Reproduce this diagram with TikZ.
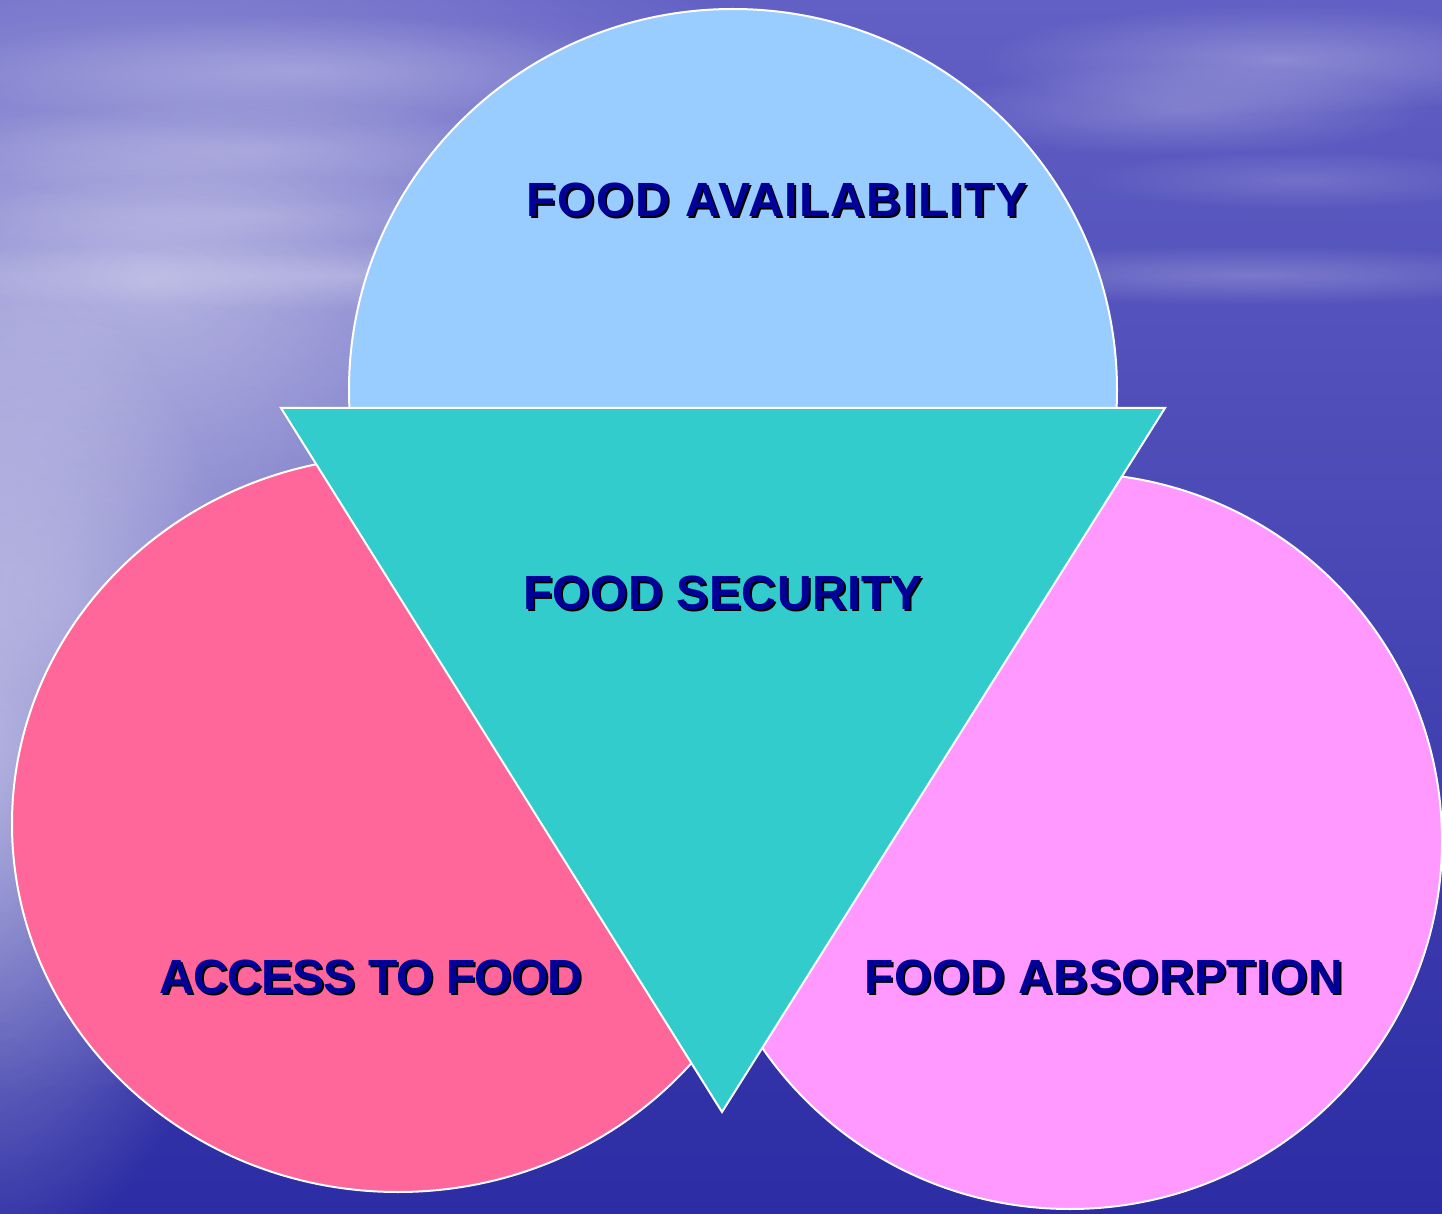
\documentclass[tikz,border=0pt]{standalone}
\usepackage{fontspec}
\setmainfont{Liberation Sans}
\usetikzlibrary{fadings}

\definecolor{skytop}{HTML}{6260C4}
\definecolor{skymid}{HTML}{5250BA}
\definecolor{seabottom}{HTML}{2C2CA4}
\definecolor{availfill}{HTML}{99CCFF}
\definecolor{accessfill}{HTML}{FF6699}
\definecolor{absorbfill}{HTML}{FF99FF}
\definecolor{securefill}{HTML}{33CCCC}
\definecolor{labelblue}{HTML}{000099}

\tikzfading[name=softglow, inner color=transparent!0, outer color=transparent!100]

% label text with a small black cast shadow behind it
\newcommand\castshadow[1]{\rlap{\kern1pt\raisebox{-1pt}{\color{black}#1}}#1}

\tikzset{
  blob/.style={draw=white, line width=1pt},
  lbl/.style={text=labelblue, font=\fontsize{24}{28}\selectfont\bfseries, inner sep=0pt},
  streak/.style={fill=white, path fading=softglow}
}

\begin{document}
\begin{tikzpicture}[x=0.5pt, y=-0.5pt]
  \useasboundingbox (0,0) rectangle (1442,1214);

  % sky and sea backdrop
  \shade[top color=skytop, middle color=skymid, bottom color=seabottom] (0,0) rectangle (1442,1214);
  % pale haze over the upper left sky
  \fill[streak, opacity=0.50] (150,280) ellipse [x radius=750, y radius=420];
  % bright glare along the left edge
  \fill[streak, opacity=0.55] (-40,760) ellipse [x radius=300, y radius=520];
  \fill[streak, opacity=0.30] (60,600) ellipse [x radius=500, y radius=500];
  % soft cloud streaks
  \fill[streak, opacity=0.25] (300,70) ellipse [x radius=380, y radius=55];
  \fill[streak, opacity=0.22] (250,150) ellipse [x radius=320, y radius=50];
  \fill[streak, opacity=0.18] (250,215) ellipse [x radius=300, y radius=40];
  \fill[streak, opacity=0.25] (350,275) ellipse [x radius=500, y radius=35];
  \fill[streak, opacity=0.28] (1280,60) ellipse [x radius=300, y radius=55];
  \fill[streak, opacity=0.22] (1180,110) ellipse [x radius=250, y radius=45];
  \fill[streak, opacity=0.22] (1250,275) ellipse [x radius=350, y radius=30];
  \fill[streak, opacity=0.15] (1300,180) ellipse [x radius=220, y radius=30];

  % the three pillars
  \path[blob, fill=availfill]  (733,390)  ellipse [x radius=384, y radius=381];
  \path[blob, fill=accessfill] (398,824)  ellipse [x radius=386, y radius=368];
  \path[blob, fill=absorbfill] (1070,841) ellipse [x radius=372, y radius=368];

  % the central triangle
  \coordinate (tl) at (281,408);
  \coordinate (tr) at (1165,408);
  \coordinate (bt) at (722,1112);
  \path[blob, fill=securefill, line join=miter] (tl) -- (tr) -- (bt) -- cycle;

  % labels
  \node[lbl] (avail)  at (777,201) {\addfontfeature{LetterSpace=3.5}\castshadow{FOOD AVAILABILITY}};
  \node[lbl] (secure) at (723,594) {\addfontfeature{LetterSpace=1}\castshadow{FOOD SECURITY}};
  \node[lbl] (access) at (371,978) {\addfontfeature{LetterSpace=-1.5}\castshadow{ACCESS TO FOOD}};
  \node[lbl] (absorb) at (1104,978) {\addfontfeature{LetterSpace=1}\castshadow{FOOD ABSORPTION}};
\end{tikzpicture}
\end{document}
